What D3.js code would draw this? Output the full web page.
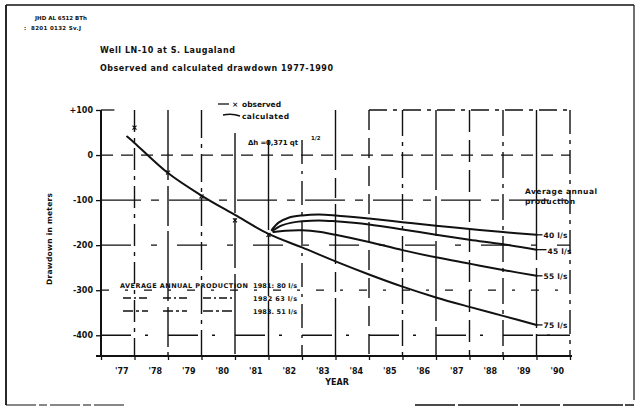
<!DOCTYPE html>
<html>
<head>
<meta charset="utf-8">
<script src="https://cdn.jsdelivr.net/npm/d3@7"></script>
<style>
  html, body { margin: 0; padding: 0; background: #fff; }
  svg { display: block; }
  text { font-family: "DejaVu Sans", "Liberation Sans", sans-serif; font-weight: bold; fill: #111; }
</style>
</head>
<body>
<svg id="chart" width="640" height="407"></svg>
<script>
// Drawdown in well LN-10, S. Laugaland, 1977-1990
const tickYears = [1977, 1978, 1979, 1980, 1981, 1982, 1983, 1984, 1985, 1986, 1987, 1988, 1989, 1990, 1991];
const yearLabels = ["'77", "'78", "'79", "'80", "'81", "'82", "'83", "'84", "'85", "'86", "'87", "'88", "'89", "'90"];
const drawdownTicks = [100, 0, -100, -200, -300, -400];
const drawdownLabels = ["+100", "0", "-100", "-200", "-300", "-400"];

// observed drawdown (m)
const obsTime = [1978, 1979, 1980, 1981, 1982];
const obsDrawdown = [61, -39, -92, -145, -177];

// calculated drawdown, continued at 75 l/s after 1982
const calcTime = [1977.78, 1978, 1979, 1980, 1981, 1982, 1983, 1984, 1985, 1986, 1987, 1988, 1989, 1990];
const calcDrawdown = [41, 27, -40, -90, -133, -175, -205, -236, -265, -292, -316, -337, -357, -377];

// predicted drawdown for other annual production rates
const q40Time = [1982.1, 1982.3, 1982.6, 1983, 1983.5, 1984, 1985, 1986, 1987, 1988, 1989, 1990];
const q40Drawdown = [-166, -150, -139, -134, -132, -134, -141, -149, -157, -164, -171, -177];
const q45Time = [1982.12, 1982.4, 1982.7, 1983, 1983.5, 1984, 1985, 1986, 1987, 1988, 1989, 1990];
const q45Drawdown = [-168, -156, -150, -147, -145, -147, -154, -165, -177, -188, -198, -210];
const q55Time = [1982.15, 1982.5, 1983, 1983.5, 1984, 1985, 1986, 1987, 1988, 1989, 1990];
const q55Drawdown = [-171, -168, -167, -170, -177, -193, -211, -227, -241, -255, -268];

const rateLabels = ["40 l/s", "45 l/s", "55 l/s", "75 l/s"];
const productionYears = ["1981: 80 l/s", "1982  63 l/s", "1983.  51 l/s"];

const svg = d3.select("#chart");

const x = d3.scaleLinear().domain([1977, 1991]).range([101, 570]);
const y = d3.scaleLinear().domain([100, -446]).range([110, 356]);

// sheet border
const frame = svg.append("g").attr("stroke", "#111").attr("fill", "none");
frame.append("line").attr("x1", 6).attr("y1", 5).attr("x2", 6).attr("y2", 405).attr("stroke-width", 1.8);
frame.append("line").attr("x1", 6).attr("y1", 5).attr("x2", 634).attr("y2", 5).attr("stroke-width", 1.5);
frame.append("line").attr("x1", 634).attr("y1", 5).attr("x2", 634).attr("y2", 400).attr("stroke-width", 1.2);
frame.append("line").attr("x1", 6).attr("y1", 405).attr("x2", 125).attr("y2", 405).attr("stroke-width", 1).attr("stroke-dasharray", "30 3 8 3");
frame.append("line").attr("x1", 415).attr("y1", 405).attr("x2", 634).attr("y2", 405).attr("stroke-width", 1.6).attr("stroke-dasharray", "40 3 60 2");

// vertical grid lines, drafted with mixed line styles
const vStyle = {
  1978: { top: 110, dash: "22 6 4 6" },
  1979: { top: 110, dash: "70 6 40 5" },
  1980: { top: 110, dash: "28 6 4 6" },
  1981: { top: 133, dash: "80 5 50 6" },
  1982: { top: 140, dash: "90 6 60 5" },
  1983: { top: 140, dash: "24 7 3 7" },
  1984: { top: 110, dash: "60 8 20 6" },
  1985: { top: 110, dash: "20 8" },
  1986: { top: 110, dash: "26 6 4 6" },
  1987: { top: 110, dash: "80 6 40 5" },
  1988: { top: 110, dash: "22 8" },
  1989: { top: 110, dash: "26 6 4 6" },
  1990: { top: 110, dash: "150 8 60 6" },
  1991: { top: 110, dash: "24 6 4 6" }
};
svg.append("g").attr("stroke", "#111").attr("stroke-width", 1.4)
  .selectAll("line").data(tickYears.filter(d => vStyle[d]))
  .join("line")
  .attr("x1", d => x(d)).attr("x2", d => x(d))
  .attr("y1", d => vStyle[d].top).attr("y2", y(-446))
  .attr("stroke-dasharray", d => vStyle[d].dash);

// horizontal grid lines
const hStyle = {
  0: { dash: "12 8" },
  "-100": { dash: "40 10 8 10" },
  "-200": { dash: "30 20 6 20" },
  "-300": { dash: "8 16 3 16" },
  "-400": { dash: "30 14 3 20" }
};
svg.append("g").attr("stroke", "#111").attr("stroke-width", 1.3)
  .selectAll("line").data(drawdownTicks.filter(d => d !== 100))
  .join("line")
  .attr("x1", x(1977)).attr("x2", x(1991))
  .attr("y1", d => y(d)).attr("y2", d => y(d))
  .attr("stroke-dasharray", d => hStyle[d].dash);
// top edge of the grid: short dash at left, dashed border at right
svg.append("line").attr("x1", x(1977)).attr("x2", x(1977.4)).attr("y1", y(100)).attr("y2", y(100))
  .attr("stroke", "#111").attr("stroke-width", 1.3);
svg.append("line").attr("x1", x(1985)).attr("x2", x(1991)).attr("y1", y(100)).attr("y2", y(100))
  .attr("stroke", "#111").attr("stroke-width", 1.3).attr("stroke-dasharray", "18 6 4 6");
svg.append("line").attr("x1", x(1990)).attr("x2", x(1991)).attr("y1", y(-400)).attr("y2", y(-400))
  .attr("stroke", "#111").attr("stroke-width", 1.4);

// axes
const xAxis = svg.append("g").attr("transform", `translate(0,${y(-446)})`)
  .call(d3.axisBottom(x).tickValues(tickYears).tickFormat("").tickSize(4).tickSizeOuter(0));
xAxis.select(".domain").attr("stroke", "#111").attr("stroke-width", 2.2).attr("d", `M${x(1977) - 5},0H${x(1991) + 2}`);
xAxis.selectAll(".tick line").attr("stroke", "#111").attr("stroke-width", 1.3);

svg.append("g").selectAll("text").data(yearLabels).join("text")
  .attr("x", (d, i) => x(tickYears[i] + 0.5) + 4)
  .attr("y", 374)
  .attr("text-anchor", "middle")
  .attr("font-size", 8)
  .text(d => d);

const yAxis = svg.append("g").attr("transform", `translate(${x(1977)},0)`)
  .call(d3.axisLeft(y).tickValues(drawdownTicks).tickFormat((d, i) => drawdownLabels[i]).tickSize(5).tickPadding(3).tickSizeOuter(0));
yAxis.select(".domain").attr("stroke", "#111").attr("stroke-width", 2).attr("d", `M0,${y(100)}V${y(-446)}`);
yAxis.selectAll(".tick line").attr("stroke", "#111").attr("stroke-width", 1.3);
yAxis.selectAll(".tick text").attr("font-size", 8).attr("font-family", "DejaVu Sans, sans-serif")
  .attr("font-weight", "bold").attr("fill", "#111");

// axis titles
svg.append("text").attr("x", 337).attr("y", 385).attr("text-anchor", "middle").attr("font-size", 8).text("YEAR");
svg.append("text").attr("transform", "translate(52,239) rotate(-90)").attr("text-anchor", "middle")
  .attr("font-size", 7.5).attr("textLength", 92).text("Drawdown in meters");

// heading
svg.append("text").attr("x", 35).attr("y", 20).attr("font-size", 5.5).attr("textLength", 52).text("JHD AL 6512 BTh");
svg.append("text").attr("x", 24).attr("y", 30).attr("font-size", 5.5).text(":");
svg.append("text").attr("x", 31).attr("y", 30).attr("font-size", 5.5).attr("textLength", 50).text("8201 0132 Sv.J");
svg.append("text").attr("x", 100).attr("y", 53).attr("font-size", 8).attr("textLength", 135).text("Well LN-10 at  S. Laugaland");
svg.append("text").attr("x", 100).attr("y", 71).attr("font-size", 8).attr("textLength", 233).text("Observed and calculated drawdown 1977-1990");

// curves
const line = d3.line().x(d => x(d[0])).y(d => y(d[1])).curve(d3.curveCatmullRom.alpha(0.5));
const series = [
  d3.zip(calcTime, calcDrawdown),
  d3.zip(q40Time, q40Drawdown),
  d3.zip(q45Time, q45Drawdown),
  d3.zip(q55Time, q55Drawdown)
];
svg.append("g").attr("fill", "none").attr("stroke", "#111").attr("stroke-width", 2)
  .attr("stroke-linecap", "round")
  .selectAll("path").data(series).join("path").attr("d", line);

// observed points
const obs = d3.zip(obsTime, obsDrawdown);
svg.append("g").attr("stroke", "#111").attr("stroke-width", 1.2)
  .selectAll("path").data(obs).join("path")
  .attr("d", d => {
    const cx = x(d[0]), cy = y(d[1]);
    return `M${cx - 2},${cy - 2}L${cx + 2},${cy + 2}M${cx - 2},${cy + 2}L${cx + 2},${cy - 2}`;
  });

// rate labels at the curve ends
const ends = [
  [q40Time[q40Time.length - 1], q40Drawdown[q40Drawdown.length - 1]],
  [q45Time[q45Time.length - 1], q45Drawdown[q45Drawdown.length - 1]],
  [q55Time[q55Time.length - 1], q55Drawdown[q55Drawdown.length - 1]],
  [calcTime[calcTime.length - 1], calcDrawdown[calcDrawdown.length - 1]]
];
svg.append("g").selectAll("text").data(rateLabels).join("text")
  .attr("x", (d, i) => x(ends[i][0]) + (i === 1 ? 11 : 7))
  .attr("y", (d, i) => y(ends[i][1]) + (i === 1 ? 4 : 3))
  .attr("font-size", 7.5)
  .attr("textLength", 24)
  .text(d => d);
// short leaders joining curve ends to their labels
svg.append("g").attr("stroke", "#111").attr("stroke-width", 1.3)
  .selectAll("line").data(ends).join("line")
  .attr("x1", d => x(d[0])).attr("x2", (d, i) => x(d[0]) + (i === 1 ? 10 : 6))
  .attr("y1", d => y(d[1])).attr("y2", d => y(d[1]));

svg.append("text").attr("x", 525).attr("y", 194).attr("font-size", 7.5).attr("textLength", 72).text("Average annual");
svg.append("text").attr("x", 525).attr("y", 204).attr("font-size", 7.5).attr("textLength", 50).text("production");

// legend
svg.append("line").attr("x1", 218).attr("x2", 229).attr("y1", 104).attr("y2", 104).attr("stroke", "#111").attr("stroke-width", 1.3);
svg.append("text").attr("x", 232).attr("y", 107).attr("font-size", 7.5).text("×");
svg.append("text").attr("x", 242).attr("y", 107).attr("font-size", 7.5).attr("textLength", 39).text("observed");
svg.append("path").attr("d", "M223,115 Q232,113 240,116").attr("stroke", "#111").attr("stroke-width", 1.5).attr("fill", "none");
svg.append("text").attr("x", 242).attr("y", 119).attr("font-size", 7.5).attr("textLength", 47).text("calculated");

// formula
svg.append("text").attr("x", 248).attr("y", 145).attr("font-size", 7).attr("textLength", 50).text("Δh =0,371 qt");
svg.append("text").attr("x", 311).attr("y", 140).attr("font-size", 5.5).text("1/2");

// production history
svg.append("text").attr("x", 120).attr("y", 288).attr("font-size", 6.5).attr("textLength", 128).text("AVERAGE ANNUAL PRODUCTION");
svg.append("g").selectAll("text").data(productionYears).join("text")
  .attr("x", 253).attr("y", (d, i) => 288 + i * 13)
  .attr("font-size", 6.5)
  .attr("textLength", 44)
  .text(d => d);
const sampleDash = ["", "8 3 2 3", "10 3 3 3"];
[1, 2].forEach(i => {
  const g = svg.append("g").attr("stroke", "#111").attr("stroke-width", 1.4).attr("stroke-dasharray", sampleDash[i]);
  [[123, 148], [163, 187], [203, 233]].forEach(s => {
    g.append("line").attr("x1", s[0]).attr("x2", s[1]).attr("y1", 285 + i * 13).attr("y2", 285 + i * 13);
  });
});
</script>
</body>
</html>
